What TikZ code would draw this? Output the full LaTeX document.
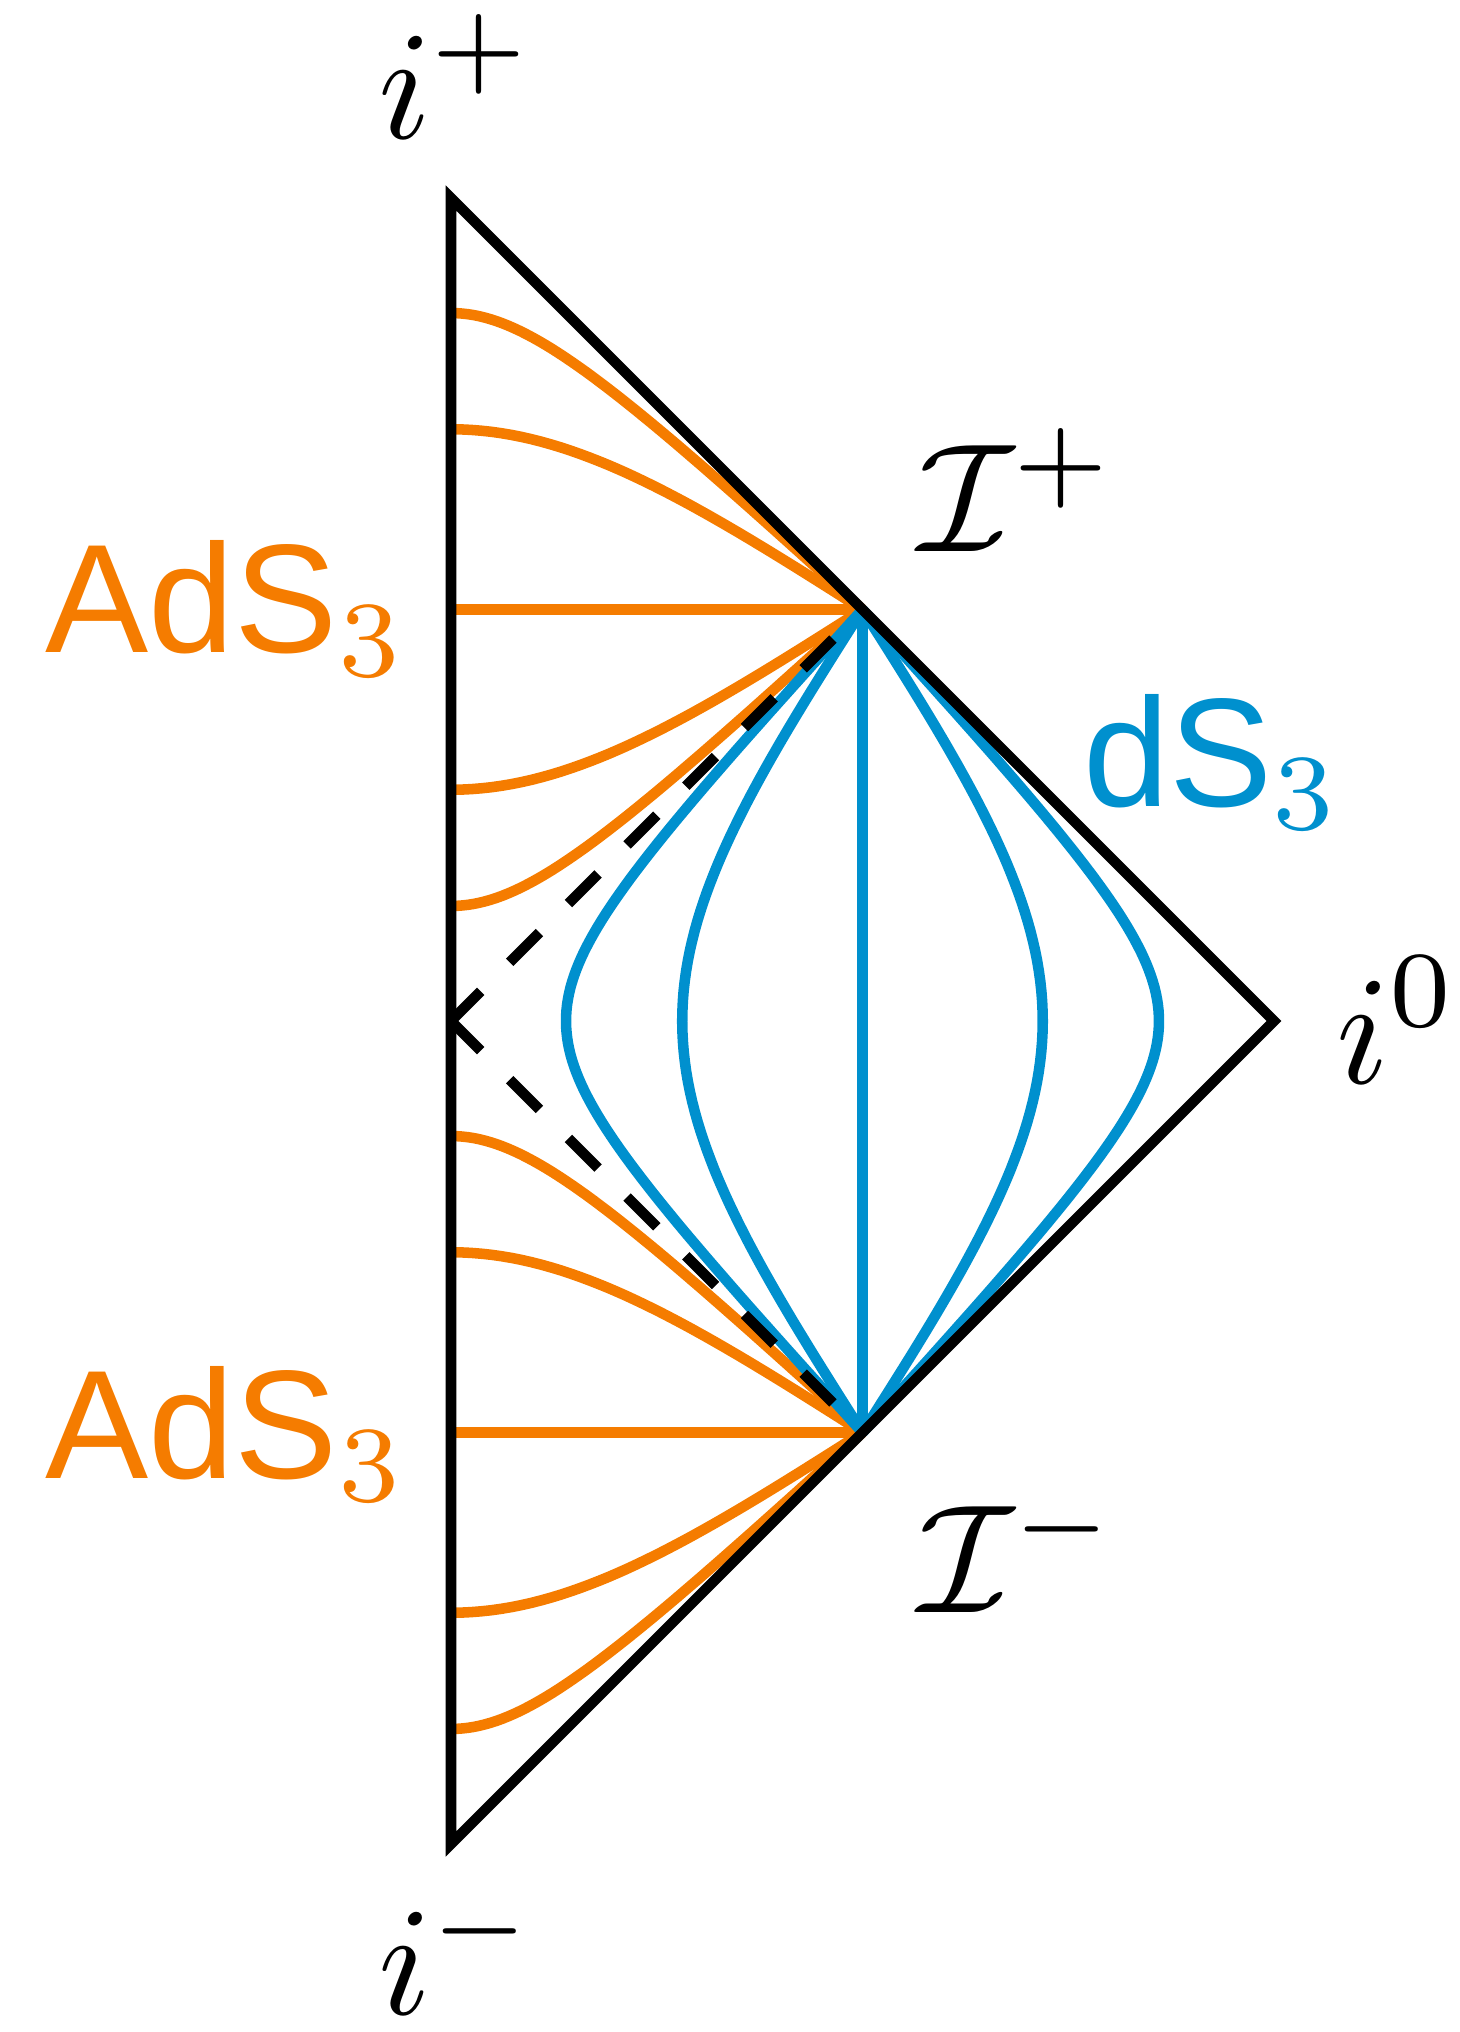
\documentclass[tikz,border=0pt]{standalone}
\usepackage{fontspec}
\setsansfont{Liberation Sans}
\definecolor{adsorange}{RGB}{245,124,0}
\definecolor{dsblue}{RGB}{0,144,206}
\tikzset{
  frame/.style={line width=3pt,black},
  adsline/.style={line width=3pt,adsorange},
  dsline/.style={line width=3pt,dsblue},
  cone/.style={line width=3pt,black,dash pattern=on 0.42cm off 0.41cm},
  lbl/.style={inner sep=0pt,anchor=base west,font=\normalsize,scale=4.4,transform shape}
}
\begin{document}
\begin{tikzpicture}[x=0.045722cm,y=0.045722cm]
  \useasboundingbox (-98.64,-221.12) rectangle (220.68,223.31);
  \coordinate (ip) at (0,180);
  \coordinate (im) at (0,-180);
  \coordinate (io) at (180,0);
  \coordinate (o) at (0,0);
  \coordinate (scrip) at (90,90);
  \coordinate (scrim) at (90,-90);
  \foreach \k in {-1.5,-0.75,0,0.75,1.5} {
    \draw[adsline] plot[domain=0:7,samples=141,variable=\t]
      ({atan(exp(\k+\t))-atan(exp(\k-\t))},{atan(exp(\k+\t))+atan(exp(\k-\t))}) -- (scrip);
    \draw[adsline] plot[domain=0:7,samples=141,variable=\t]
      ({atan(exp(\k+\t))-atan(exp(\k-\t))},{-atan(exp(\k+\t))-atan(exp(\k-\t))}) -- (scrim);
  }
  \foreach \k in {-1.5,-0.75,0,0.75,1.5} {
    \draw[dsline] (scrim) -- plot[domain=-7:7,samples=281,variable=\t]
      ({atan(exp(\k+\t))+atan(exp(\k-\t))},{atan(exp(\k+\t))-atan(exp(\k-\t))}) -- (scrip);
  }
  \draw[cone] (o) -- (scrip);
  \draw[cone] (o) -- (scrim);
  \draw[frame] (ip) -- (io) -- (im) -- cycle;
  \node[lbl] (iplus) at (-16.5,193.1) {$i^+$};
  \node[lbl] (iminus) at (-16.5,-217.3) {$i^-$};
  \node[lbl] (izero) at (193.0,-13.56) {$i^0$};
  \node[lbl] (scriplbl) at (101.5,102.6) {$\mathcal{I}^+$};
  \node[lbl] (scrimlbl) at (101.5,-129.3) {$\mathcal{I}^-$};
  \node[lbl,dsblue] (dslbl) at (137.6,47.0) {\sffamily dS$_3$};
  \node[lbl,adsorange] (adsup) at (-89.3,80.5) {\sffamily AdS$_3$};
  \node[lbl,adsorange] (adsdown) at (-89.3,-99.95) {\sffamily AdS$_3$};
\end{tikzpicture}
\end{document}
